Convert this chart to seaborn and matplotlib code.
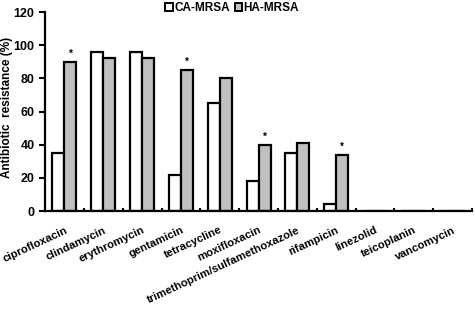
import numpy as np
import pandas as pd
import matplotlib
matplotlib.use('Agg')
import matplotlib.pyplot as plt
import seaborn as sns
from matplotlib.patches import Patch

antibiotics = ['ciprofloxacin', 'clindamycin', 'erythromycin', 'gentamicin', 'tetracycline',
               'moxifloxacin', 'trimethoprim/sulfamethoxazole', 'rifampicin', 'linezolid',
               'teicoplanin', 'vancomycin']
ca_mrsa = [35, 96, 96, 22, 65, 18, 35, 4, 0, 0, 0]
ha_mrsa = [90, 92.5, 92, 85, 80, 40, 41, 34, 0, 0, 0]
significant = ['ciprofloxacin', 'gentamicin', 'moxifloxacin', 'rifampicin']

df = pd.DataFrame({
    'antibiotic': antibiotics * 2,
    'resistance': ca_mrsa + ha_mrsa,
    'group': ['CA-MRSA'] * len(antibiotics) + ['HA-MRSA'] * len(antibiotics),
})

sns.set_style('white')
plt.rcParams['font.family'] = ['Liberation Sans', 'DejaVu Sans']
plt.rcParams['font.weight'] = 'bold'
for key in ['text.color', 'axes.labelcolor', 'xtick.color', 'ytick.color']:
    plt.rcParams[key] = 'black'

fig = plt.figure(figsize=(4.74, 3.09), dpi=100)
ax = fig.add_axes([0.095, 0.317, 0.901, 0.644])

sns.barplot(data=df, x='antibiotic', y='resistance', hue='group',
            palette={'CA-MRSA': 'white', 'HA-MRSA': '#c0c0c0'},
            edgecolor='black', linewidth=1.6, width=0.62, ax=ax, legend=False)

ax.set_xlim(-0.5, len(antibiotics) - 0.5)
ax.set_ylim(0, 120)
ax.set_yticks(range(0, 121, 20))
ax.set_ylabel('Antibiotic  resistance (%)', fontsize=8.5, fontweight='bold')
ax.yaxis.set_label_coords(-0.076, 0.52)
ax.set_xlabel('')

ax.set_xticks(range(len(antibiotics)))
ax.set_xticklabels(antibiotics, rotation=25, ha='right', rotation_mode='anchor',
                   fontsize=8.1, fontweight='bold')
ax.set_xticks(np.arange(0.5, len(antibiotics), 1), minor=True)
ax.tick_params(axis='x', which='major', length=0, pad=10)
ax.tick_params(axis='x', which='minor', direction='in', length=2.5, width=1.5, bottom=True)
ax.tick_params(axis='y', which='major', direction='out', length=4, width=1.5, left=True,
               labelsize=9)

for s in ['top', 'right']:
    ax.spines[s].set_visible(False)
for s in ['left', 'bottom']:
    ax.spines[s].set_linewidth(1.6)
    ax.spines[s].set_color('black')

# asterisks over HA-MRSA bars
for name in significant:
    i = antibiotics.index(name)
    ax.text(i + 0.155, ha_mrsa[i] + 2, '*', ha='center', va='bottom', fontsize=7)

handles = [Patch(facecolor='white', edgecolor='black', linewidth=1.4, label='CA-MRSA'),
           Patch(facecolor='#c0c0c0', edgecolor='black', linewidth=1.4, label='HA-MRSA')]
fig.legend(handles=handles, loc='upper center', bbox_to_anchor=(0.49, 1.02), ncol=2,
           frameon=False, fontsize=8.5, handlelength=0.6, handleheight=0.6,
           handletextpad=0.15, columnspacing=0.4, borderpad=0.2)

fig.savefig('out.png', dpi=100)
